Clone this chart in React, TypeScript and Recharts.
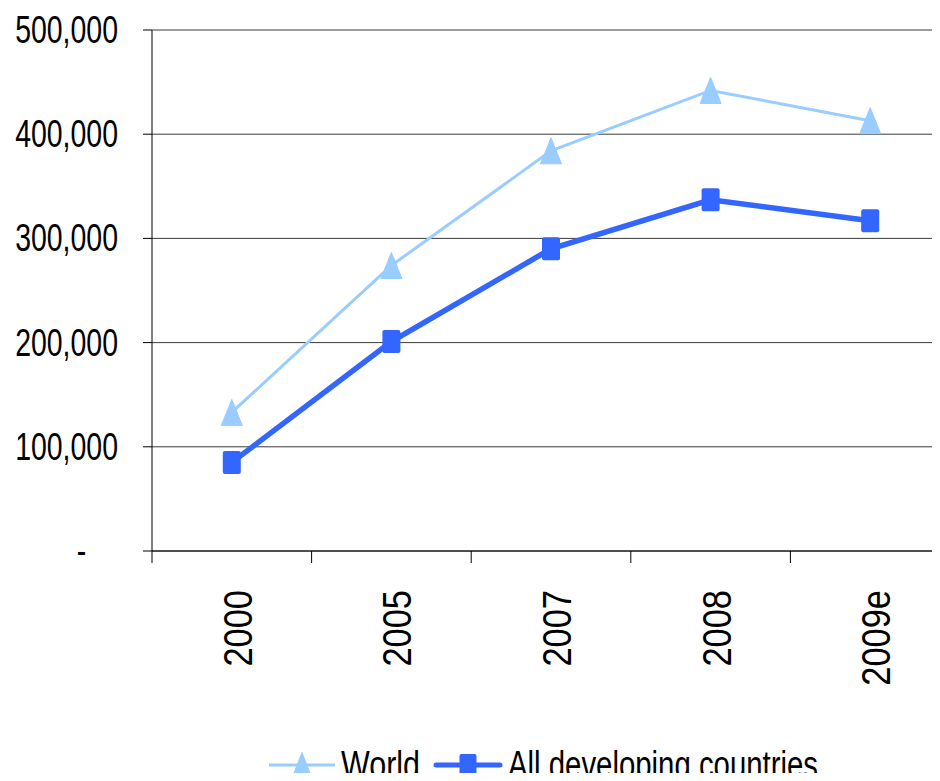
import { LineChart, Line, XAxis, YAxis, CartesianGrid, Legend } from "recharts";

const years = ["2000", "2005", "2007", "2008", "2009e"];
const world = [133000, 274000, 384000, 442000, 413000];
const developing = [85000, 201000, 290000, 337000, 317000];
const yTicks = [0, 100000, 200000, 300000, 400000, 500000];

const WORLD_COLOR = "#99CCFF";
const DEV_COLOR = "#3366FF";
const FONT = "'Liberation Sans', Arial, sans-serif";

const data = years.map((year, i) => ({ year, world: world[i], developing: developing[i] }));

const fmt = (v: number) => (v === 0 ? "-\u2007\u2007" : v.toLocaleString("en-US"));

function Triangle({ cx, cy, w = 21, h = 26 }: any) {
  if (cx == null || cy == null) return null;
  return (
    <path
      d={`M${cx},${cy - h / 2} L${cx + w / 2},${cy + h / 2} L${cx - w / 2},${cy + h / 2} Z`}
      fill={WORLD_COLOR}
      stroke={WORLD_COLOR}
      strokeLinejoin="round"
      strokeWidth={1}
    />
  );
}

function Square({ cx, cy, w = 18, h = 23 }: any) {
  if (cx == null || cy == null) return null;
  return <rect x={cx - w / 2} y={cy - h / 2} width={w} height={h} rx={2} fill={DEV_COLOR} />;
}

function YTick({ x, y, payload }: any) {
  return (
    <text
      transform={`translate(${x},${y + 13}) scale(0.73,1)`}
      textAnchor="end"
      fontSize={39}
      fontFamily={FONT}
      fill="#000"
    >
      {fmt(payload.value)}
    </text>
  );
}

function XTick({ x, y, payload, width, visibleTicksCount }: any) {
  const band = width && visibleTicksCount ? width / visibleTicksCount : 159.6;
  const bx = x - band / 2;
  return (
    <g>
      <line x1={bx} y1={y} x2={bx} y2={y + 12} stroke="#000" strokeWidth={1} />
      <text
        transform={`translate(${x + 20},${y + 39}) rotate(-90) scale(0.84,1)`}
        textAnchor="end"
        fontSize={41}
        fontFamily={FONT}
        fill="#000"
      >
        {payload.value}
      </text>
    </g>
  );
}

function LegendContent() {
  return (
    <svg width={960} height={46} style={{ display: "block" }}>
      <line x1={269} y1={31} x2={335} y2={31} stroke={WORLD_COLOR} strokeWidth={3} />
      <Triangle cx={302} cy={32} w={21} h={27} />
      <text x={341} y={44} fontSize={39} fontFamily={FONT} textLength={79} lengthAdjust="spacingAndGlyphs">
        World
      </text>
      <line x1={436} y1={31} x2={500} y2={31} stroke={DEV_COLOR} strokeWidth={5} strokeLinecap="round" />
      <Square cx={468} cy={31} w={17} h={22} />
      <text x={508} y={44} fontSize={39} fontFamily={FONT} textLength={310} lengthAdjust="spacingAndGlyphs">
        All developing countries
      </text>
    </svg>
  );
}

export default function App() {
  return (
    <div style={{ margin: -8, width: 940, height: 781, overflow: "hidden", background: "#fff" }}>
      <LineChart width={960} height={781} data={data} margin={{ top: 30, right: 10, bottom: 0, left: 0 }}>
        <CartesianGrid vertical={false} stroke="#3a3a3a" strokeWidth={1} />
        <XAxis
          dataKey="year"
          scale="band"
          height={230}
          tickLine={false}
          tickSize={0}
          tickMargin={0}
          stroke="#000"
          tick={<XTick />}
          interval={0}
        />
        <YAxis
          width={152}
          domain={[0, 500000]}
          ticks={yTicks}
          tickSize={9}
          tickMargin={25}
          stroke="#000"
          tick={<YTick />}
          interval={0}
        />
        <Legend
          layout="horizontal"
          align="center"
          verticalAlign="middle"
          content={() => <LegendContent />}
          wrapperStyle={{ top: 734, left: 0, width: 960, height: 46 }}
        />
        <Line
          dataKey="world"
          name="World"
          stroke={WORLD_COLOR}
          strokeWidth={3}
          dot={(p: any) => <Triangle key={`w${p.index}`} cx={p.cx} cy={p.cy} />}
          activeDot={false}
          isAnimationActive={false}
        />
        <Line
          dataKey="developing"
          name="All developing countries"
          stroke={DEV_COLOR}
          strokeWidth={5.5}
          dot={(p: any) => <Square key={`d${p.index}`} cx={p.cx} cy={p.cy} />}
          activeDot={false}
          isAnimationActive={false}
        />
      </LineChart>
    </div>
  );
}
